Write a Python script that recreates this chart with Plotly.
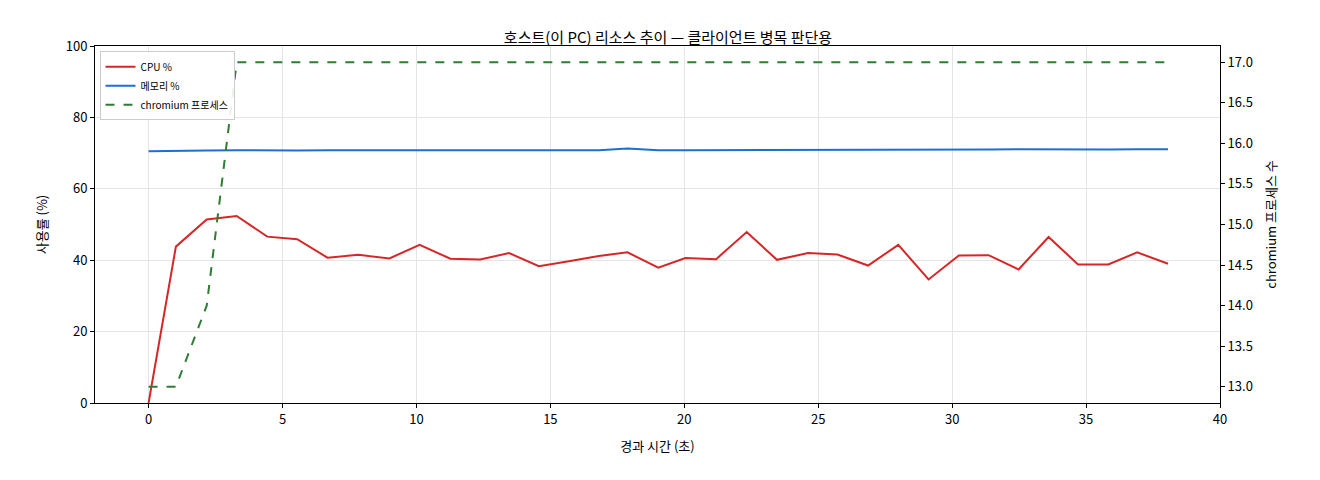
import plotly.graph_objects as go

t = [0, 1.02, 2.17, 3.29, 4.43, 5.55, 6.68, 7.83, 8.99, 10.12, 11.27, 12.38, 13.46, 14.57, 15.69,
     16.81, 17.88, 19.03, 20.04, 21.19, 22.33, 23.46, 24.62, 25.72, 26.86, 27.99, 29.12, 30.25,
     31.36, 32.48, 33.6, 34.7, 35.83, 36.91, 38.06]
cpu = [0, 43.8, 51.4, 52.4, 46.6, 45.9, 40.7, 41.5, 40.5, 44.3, 40.4, 40.2, 42.0, 38.3, 39.7,
       41.2, 42.2, 37.9, 40.6, 40.3, 47.9, 40.1, 42.0, 41.6, 38.5, 44.3, 34.6, 41.3,
       41.4, 37.4, 46.5, 38.8, 38.8, 42.2, 39.0]
mem = [70.5, 70.5, 70.7, 70.8, 70.7, 70.7, 70.8, 70.7, 70.8, 70.8, 70.7, 70.8, 70.8, 70.8, 70.8,
       70.8, 71.3, 70.8, 70.8, 70.8, 70.9, 70.9, 71.0, 70.9, 70.9, 71.0, 71.0, 71.0,
       71.0, 71.1, 71.0, 71.0, 71.0, 71.1, 71.1]
chromium = [13, 13, 14, 17] + [17] * 31

font = "Noto Sans CJK KR"
fig = go.Figure()
fig.add_trace(go.Scatter(x=t, y=cpu, mode="lines", name="CPU %", line=dict(color="#d62728", width=2)))
fig.add_trace(go.Scatter(x=t, y=mem, mode="lines", name="메모리 %", line=dict(color="#1f6fd0", width=2)))
fig.add_trace(go.Scatter(x=t, y=chromium, mode="lines", name="chromium 프로세스", yaxis="y2",
                         line=dict(color="#2e7d32", width=2, dash="dash")))
axcommon = dict(showline=True, linecolor="black", ticks="outside", tickcolor="black", ticklen=4,
                tickfont=dict(size=13, color="black"), zeroline=False)
fig.update_layout(
    width=1320, height=480, plot_bgcolor="white", paper_bgcolor="white",
    font=dict(family=font, color="black"),
    margin=dict(l=87, r=108, t=38, b=85),
    title=dict(text="호스트(이 PC) 리소스 추이 — 클라이언트 병목 판단용", x=0.5, y=0.95, xanchor="center",
               font=dict(size=15)),
    xaxis=dict(range=[-2, 40], dtick=5, showgrid=True, gridcolor="#e5e5e5", mirror=True,
               title=dict(text="경과 시간 (초)", font=dict(size=13)), **axcommon),
    yaxis=dict(range=[0, 100], dtick=20, showgrid=True, gridcolor="#e5e5e5",
               title=dict(text="사용률 (%)", font=dict(size=13)), **axcommon),
    yaxis2=dict(range=[12.8, 17.2], dtick=0.5, tickformat=".1f", overlaying="y", side="right",
                showgrid=False, title=dict(text="chromium 프로세스 수", font=dict(size=13)), **axcommon),
    legend=dict(x=0.004, y=0.985, xanchor="left", yanchor="top", bgcolor="rgba(255,255,255,0.9)",
                bordercolor="#cccccc", borderwidth=1, font=dict(size=10), itemwidth=30),
    showlegend=True,
)
fig.write_html("out.html")
